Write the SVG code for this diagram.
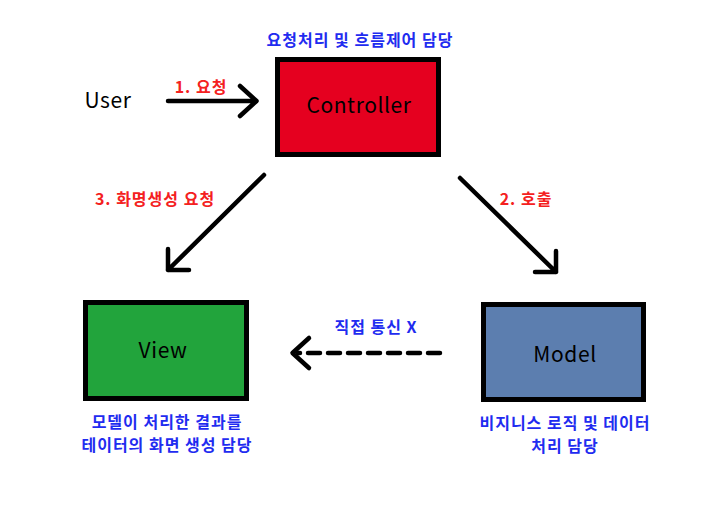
<svg xmlns="http://www.w3.org/2000/svg" width="719" height="512" viewBox="0 0 719 512">
<defs>
<style>
.box{stroke:#000;stroke-width:5}
.name{font-family:"Malgun Gothic","Noto Sans CJK KR","Noto Sans",sans-serif;font-size:21px;letter-spacing:0.6px;fill:#000;text-anchor:middle;dominant-baseline:central}
.blue{font-family:"Malgun Gothic","Noto Sans CJK KR",sans-serif;font-size:16px;letter-spacing:1px;font-weight:bold;fill:#1f2cf0;text-anchor:middle;dominant-baseline:central}
.red{font-family:"Malgun Gothic","Noto Sans CJK KR",sans-serif;font-size:16px;letter-spacing:1px;font-weight:bold;fill:#f42020;text-anchor:middle;dominant-baseline:central}
.ln{stroke:#000;stroke-width:4.5;fill:none;stroke-linecap:round;stroke-linejoin:round}
</style>
</defs>
<rect width="719" height="512" fill="#fff"/>
<g id="user"><text class="name" x="108" y="99">User</text></g>
<g id="controller">
<rect class="box" x="277.5" y="59.5" width="161" height="95" fill="#e5001f"/>
<text class="name" x="359" y="104">Controller</text>
<text class="blue" x="360" y="39">요청처리 및 흐름제어 담당</text>
</g>
<g id="view">
<rect class="box" x="85.5" y="302.5" width="161" height="96" fill="#22a43c"/>
<text class="name" x="163" y="349">View</text>
<text class="blue" x="167" y="421">모델이 처리한 결과를</text>
<text class="blue" x="167" y="444">테이터의 화면 생성 담당</text>
</g>
<g id="model">
<rect class="box" x="483.5" y="304.5" width="160" height="95" fill="#5c7eaf"/>
<text class="name" x="565" y="353">Model</text>
<text class="blue" x="565" y="422">비지니스 로직 및 데이터</text>
<text class="blue" x="565" y="445">처리 담당</text>
</g>
<g id="connectors">
<path class="ln" d="M168 101 H256 M240 86 L256.5 101 L240 116"/>
<text class="red" x="201" y="86">1. 요청</text>
<path class="ln" d="M264 175 L168 270 M168 249 V270 H189"/>
<text class="red" x="155" y="198">3. 화명생성 요청</text>
<path class="ln" d="M460 178 L556 272 M556 251 V272 H535"/>
<text class="red" x="526" y="198">2. 호출</text>
<path class="ln" d="M440 353 H298" stroke-dasharray="12 8" stroke-linecap="butt"/>
<path class="ln" d="M309 338 L292.5 353 L309 368"/>
<text class="blue" x="376" y="326">직접 통신 X</text>
</g>
</svg>
